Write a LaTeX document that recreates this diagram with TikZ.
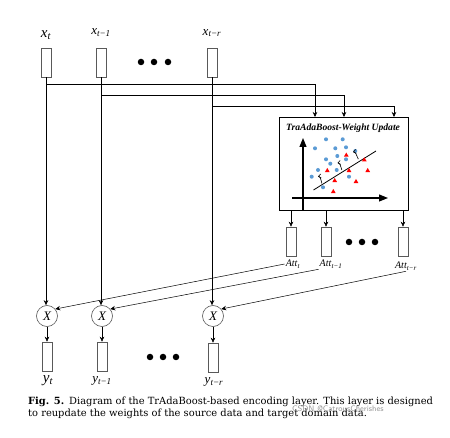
\documentclass[tikz,border=0pt]{standalone}
\usepackage{fontspec}
\setmainfont{Liberation Serif}
\newfontfamily\capfont{DejaVu Serif}
\usetikzlibrary{arrows.meta,calc,shapes.geometric}
\definecolor{ptblue}{RGB}{91,155,213}
\newcommand{\sublab}[3]{{\fontsize{#3}{#3}\selectfont\textit{#1}\textsubscript{\textit{#2}}}}
\begin{document}
\begin{tikzpicture}[x=1pt,y=-1pt,
  cell/.style={draw=black!65, minimum width=10pt, minimum height=29pt, inner sep=0pt, line width=0.6pt},
  mult/.style={circle, draw=black!65, minimum size=21pt, inner sep=0pt, line width=0.6pt, font=\fontsize{13}{13}\selectfont\itshape},
  arr/.style={-{Stealth[length=5pt,width=4.5pt]}, line width=0.5pt},
  bigdot/.style={circle, fill=black, minimum size=6.5pt, inner sep=0pt},
  bdot/.style={circle, fill=ptblue, minimum size=4pt, inner sep=0pt},
  rtri/.style={regular polygon, regular polygon sides=3, fill=red, minimum size=5.5pt, inner sep=0pt},
  lab/.style={inner sep=1pt}]
\useasboundingbox (0,0) rectangle (450,438);
\fill[white] (0,0) rectangle (450,438);

% input cells
\node[cell] (xa) at (46,62.5) {};
\node[cell] (xb) at (101,62.5) {};
\node[cell] (xc) at (212,62.5) {};
\node[lab] (lxa) at (46,35) {\sublab{x}{t}{15}};
\node[lab] (lxb) at (101,33) {\sublab{x}{t−1}{13}};
\node[lab] (lxc) at (212,33) {\sublab{x}{t−r}{13}};
\node[bigdot] (d1) at (141,62) {};
\node[bigdot] (d2) at (154,62) {};
\node[bigdot] (d3) at (168,62) {};

% TrAdaBoost box
\node[draw, line width=0.8pt, minimum width=129pt, minimum height=93pt, inner sep=0pt] (tb) at (343.5,163.5) {};
\node[lab] (tbt) at (343,128) {\fontsize{9.6}{9.6}\selectfont\bfseries\itshape TraAdaBoost-Weight Update};
\coordinate (ina) at (315,117);
\coordinate (inb) at (344,117);
\coordinate (inc) at (394,117);
\draw[arr] (xa.south |- 0,84) -| (ina);
\draw[arr] (xb.south |- 0,95) -| (inb);
\draw[arr] (xc.south |- 0,106) -| (inc);

% axes
\coordinate (yax0) at (303,210);
\coordinate (yax1) at (303,138);
\coordinate (xax0) at (292,198);
\coordinate (xax1) at (388,198);
\draw[-{Triangle[length=9pt,width=7pt]}, line width=1.1pt] (yax0) -- (yax1);
\draw[-{Triangle[length=9pt,width=7pt]}, line width=1.1pt] (xax0) -- (xax1);
\coordinate (s0) at (313.5,190);
\coordinate (s1) at (376,151);
\draw[line width=0.8pt] (s0) -- (s1);

% scatter
\foreach \p in {(326,139.3),(342.7,139.3),(315,148.3),(346,147.3),(335.3,148.3),(355.3,151),(326,159.3),(337.3,156),(346,159.3),(330.3,163.7),(318,170),(336.7,170),(311.7,176.7),(349,176.7),(323,187.3)}
  \node[bdot] at \p {};
\foreach \p in {(346.3,155.3),(364.3,160),(327.3,170.7),(349,170.7),(367.7,170.7),(334.7,180.7),(356,181.7),(333.3,191.7)}
  \node[rtri] at \p {};
\foreach \ax/\ay/\bx/\by in {322/183/318/176.5, 342/169.5/337.5/163, 358.5/158.5/353/152}
  \draw[-{Straight Barb[length=2.5pt,width=4pt]}, line width=0.6pt] (\ax,\ay) to[out=-90,in=10] (\bx,\by);

% attention cells
\node[cell] (aa) at (291,241.5) {};
\node[cell] (ab) at (326,241.5) {};
\node[cell] (ac) at (403,241.5) {};
\draw[arr] (tb.south -| aa) -- (aa);
\draw[arr] (tb.south -| ab) -- (ab);
\draw[arr] (tb.south -| ac) -- (ac);
\node[bigdot] (d4) at (349,242) {};
\node[bigdot] (d5) at (362,242) {};
\node[bigdot] (d6) at (375,242) {};
\node[lab] (la) at (293,264) {\sublab{Att}{t}{10}};
\node[lab] (lb) at (331,264) {\sublab{Att}{t−1}{10}};
\node[lab] (lc) at (406,266) {\sublab{Att}{t−r}{10}};

% multipliers
\node[mult] (ma) at (47,316) {X};
\node[mult] (mb) at (102,316) {X};
\node[mult] (mc) at (213,316) {X};
\draw[arr] (xa) -- (xa |- ma.north);
\draw[arr] (xb) -- (xb |- mb.north);
\draw[arr] (xc) -- (xc |- mc.north);
\draw[arr] (la.west) -- (ma.40);
\draw[arr] (lb.south west) -- (mb.40);
\draw[arr] (lc.south) -- (mc.40);

% outputs
\node[cell] (ya) at (47,356.5) {};
\node[cell] (yb) at (102,356.5) {};
\node[cell] (yc) at (213,357.5) {};
\draw[arr] (ma) -- (ya);
\draw[arr] (mb) -- (yb);
\draw[arr] (mc) -- (yc);
\node[bigdot] (d7) at (150,357) {};
\node[bigdot] (d8) at (163,357) {};
\node[bigdot] (d9) at (176,357) {};
\node[lab] (lya) at (48,381) {\sublab{y}{t}{15}};
\node[lab] (lyb) at (102,381) {\sublab{y}{t−1}{13}};
\node[lab] (lyc) at (214,382) {\sublab{y}{t−r}{13}};

% caption
\node[anchor=north west, inner sep=0pt, align=left, font=\capfont\fontsize{9.9}{11.5}\selectfont] (cap) at (28,397)
  {\textbf{Fig. 5.}\enspace Diagram of the TrAdaBoost-based encoding layer. This layer is designed\\
   to reupdate the weights of the source data and target domain data.};
\node[anchor=west, inner sep=0pt, text=black!40, font=\sffamily\fontsize{8}{8}\selectfont] (wm) at (292,409) {CSDN @CatrousCherishes};
\end{tikzpicture}
\end{document}
